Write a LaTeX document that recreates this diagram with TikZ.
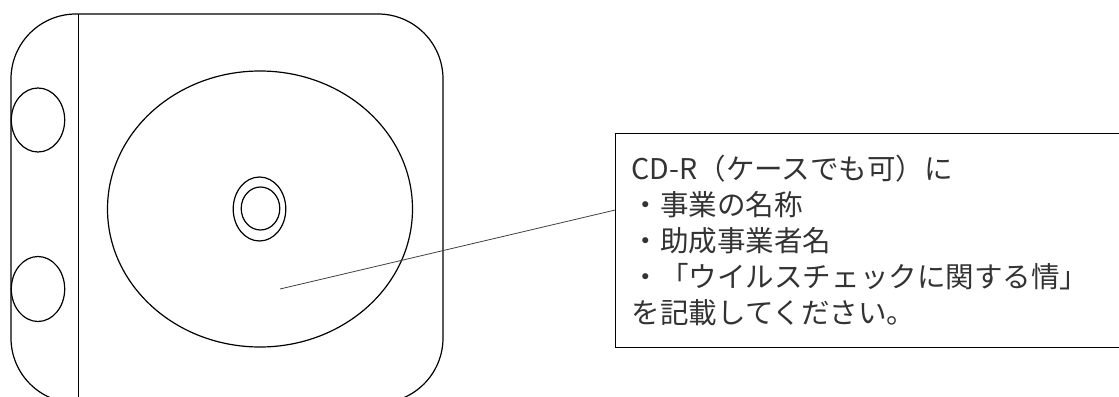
\documentclass[tikz,border=0pt]{standalone}
\usepackage{fontspec}
\newfontfamily\jpfont{Noto Sans CJK JP}
\usetikzlibrary{positioning}

\begin{document}
\begin{tikzpicture}[x=0.75pt, y=-0.75pt, line width=0.9pt,
  note/.style={draw, line width=1.1pt, anchor=north west, align=left,
    inner xsep=12pt, inner ysep=14pt, text width=360pt, minimum height=160.5pt,
    text=black!80, font=\jpfont\fontsize{21.4pt}{27pt}\selectfont}]
\clip (0,0) rectangle (1119,396);
\draw[rounded corners=48.75pt] (11,14) rectangle (443,403);
\draw[line width=0.7pt] (78,14) -- (78,403);
\draw (38,120) ellipse [x radius=26.7, y radius=32];
\draw (38,289) ellipse [x radius=26.7, y radius=32.5];
\coordinate (disc) at (260,209);
\draw (disc) ellipse [x radius=152.5, y radius=138];
\draw (259.5,209) ellipse [x radius=26.3, y radius=32];
\draw (260.5,208.5) ellipse [x radius=19.3, y radius=21.5];
\node (note) [note] at (615,133) {CD-R（ケースでも可）に\\・事業の名称\\・助成事業者名\\・「ウイルスチェックに関する情」\\を記載してください。};
\coordinate (tip) at (280,289);
\draw[line width=0.6pt, black!75] (tip) -- ([yshift=23pt]note.west);
\end{tikzpicture}
\end{document}
